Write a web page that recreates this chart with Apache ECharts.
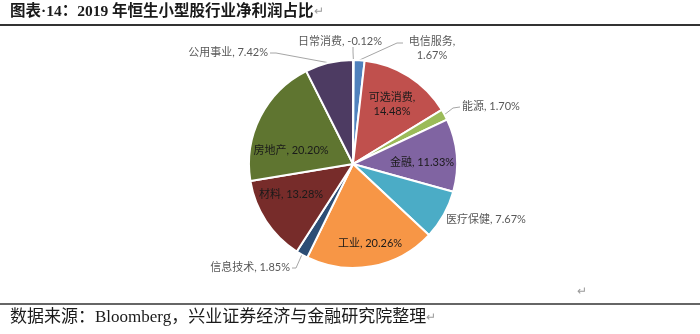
<!DOCTYPE html>
<html>
<head>
<meta charset="utf-8">
<script src="https://cdn.jsdelivr.net/npm/echarts@6/dist/echarts.min.js"></script>
<style>
  html, body { margin: 0; padding: 0; background: #ffffff; }
  #chart { width: 700px; height: 334px; }
</style>
</head>
<body>
<div id="chart"></div>
<script>
// 2019 Hang Seng small-cap index: share of net profit by sector (%)
const sectors = ['日常消费', '电信服务', '可选消费', '能源', '金融', '医疗保健', '工业', '信息技术', '材料', '房地产', '公用事业'];
const shares  = [-0.12, 1.67, 14.48, 1.70, 11.33, 7.67, 20.26, 1.85, 13.28, 20.20, 7.42];
const sliceColors = ['#276A7C', '#4F81BD', '#C0504D', '#9BBB59', '#8064A2', '#4BACC6', '#F79646', '#2C4D75', '#772C2A', '#5F7530', '#4D3B62'];

const titleText  = '图表·14：2019 年恒生小型股行业净利润占比';
const sourceText = '数据来源：Bloomberg，兴业证券经济与金融研究院整理';

// pie geometry
const PIE_CX = 353, PIE_CY = 164, PIE_R = 104;
const LABEL_FONT = 'Lato, "Noto Sans CJK SC", sans-serif';
const SERIF_FONT = '"Liberation Serif", "Noto Sans CJK SC", serif';

// label placement per sector: inside labels sit on the slice, outside ones get an elbow leader
const labelSpots = {
  '日常消费': { x: 340, y: 41, align: 'center', elbow: [353, 52], end: [353, 47] },
  '电信服务': { x: 432, y: 48, align: 'center', elbow: [397, 43], end: [403, 43] },
  '可选消费': { x: 392, y: 104, align: 'center', inside: true },
  '能源':     { x: 462, y: 106, align: 'left', elbow: [453, 108], end: [460, 107] },
  '金融':     { x: 422, y: 162, align: 'center', inside: true },
  '医疗保健': { x: 446, y: 219, align: 'left', noLine: true },
  '工业':     { x: 370, y: 243, align: 'center', inside: true },
  '信息技术': { x: 290, y: 267, align: 'right', elbow: [296, 268], end: [292, 268] },
  '材料':     { x: 291, y: 194, align: 'center', inside: true },
  '房地产':   { x: 291, y: 150, align: 'center', inside: true },
  '公用事业': { x: 268, y: 52, align: 'right', elbow: [276, 53], end: [270, 53] }
};
const twoLineLabels = ['电信服务', '可选消费'];

// slices are sized by magnitude, so the small negative share shows as a sliver
const sliceSizes = shares.map(v => Math.abs(v));

// mid-angle of each slice, measured clockwise from 12 o'clock
const sizeSum = sliceSizes.reduce((a, b) => a + b, 0);
const midAngles = [];
(function () {
  let acc = 0;
  sliceSizes.forEach(v => {
    const a = v / sizeSum * 360;
    midAngles.push(acc + a / 2);
    acc += a;
  });
})();
function edgePoint(i) {
  const t = midAngles[i] * Math.PI / 180;
  return [PIE_CX + PIE_R * Math.sin(t), PIE_CY - PIE_R * Math.cos(t)];
}

const pieData = sectors.map((name, i) => {
  const spot = labelSpots[name];
  return {
    name: name,
    value: sliceSizes[i],
    itemStyle: { color: sliceColors[i] },
    label: {
      position: spot.inside ? 'inside' : 'outside',
      color: spot.inside ? '#1a1a1a' : '#595959'
    },
    labelLine: { show: !spot.inside && !spot.noLine }
  };
});

const chart = echarts.init(document.getElementById('chart'), null, { renderer: 'canvas' });

chart.setOption({
  backgroundColor: '#ffffff',
  animation: false,
  graphic: [
    {
      type: 'text', left: 10, top: 4,
      style: {
        text: '{t|' + titleText + '}{r|↵}',
        rich: {
          t: { font: 'bold 15.5px ' + SERIF_FONT, fill: '#1a1a1a' },
          r: { font: '12px ' + SERIF_FONT, fill: '#9a9a9a' }
        }
      }
    },
    { type: 'line', shape: { x1: 0, y1: 25, x2: 700, y2: 25 }, style: { stroke: '#333333', lineWidth: 2 } },
    { type: 'text', left: 577, top: 286, style: { text: '↵', font: '12px ' + SERIF_FONT, fill: '#9a9a9a' } },
    { type: 'line', shape: { x1: 0, y1: 304, x2: 700, y2: 304 }, style: { stroke: '#333333', lineWidth: 1.5 } },
    {
      type: 'text', left: 10, top: 309,
      style: {
        text: '{t|' + sourceText + '}{r|↵}',
        rich: {
          t: { font: '17px ' + SERIF_FONT, fill: '#1a1a1a' },
          r: { font: '12px ' + SERIF_FONT, fill: '#9a9a9a' }
        }
      }
    }
  ],
  series: [{
    type: 'pie',
    center: [PIE_CX, PIE_CY],
    radius: PIE_R,
    startAngle: 90,
    clockwise: true,
    avoidLabelOverlap: false,
    itemStyle: { borderColor: '#ffffff', borderWidth: 2 },
    label: {
      fontSize: 11,
      fontFamily: LABEL_FONT,
      lineHeight: 14,
      formatter: p => p.name + (twoLineLabels.indexOf(p.name) >= 0 ? ',\n' : ', ') + shares[p.dataIndex].toFixed(2) + '%'
    },
    labelLine: { lineStyle: { color: '#A6A6A6', width: 1 } },
    labelLayout: function (params) {
      const i = params.dataIndex;
      const spot = labelSpots[sectors[i]];
      const out = { x: spot.x, y: spot.y, align: spot.align, verticalAlign: 'middle' };
      if (spot.elbow) {
        out.labelLinePoints = [edgePoint(i), spot.elbow, spot.end];
      }
      return out;
    },
    data: pieData
  }]
});
</script>
</body>
</html>
